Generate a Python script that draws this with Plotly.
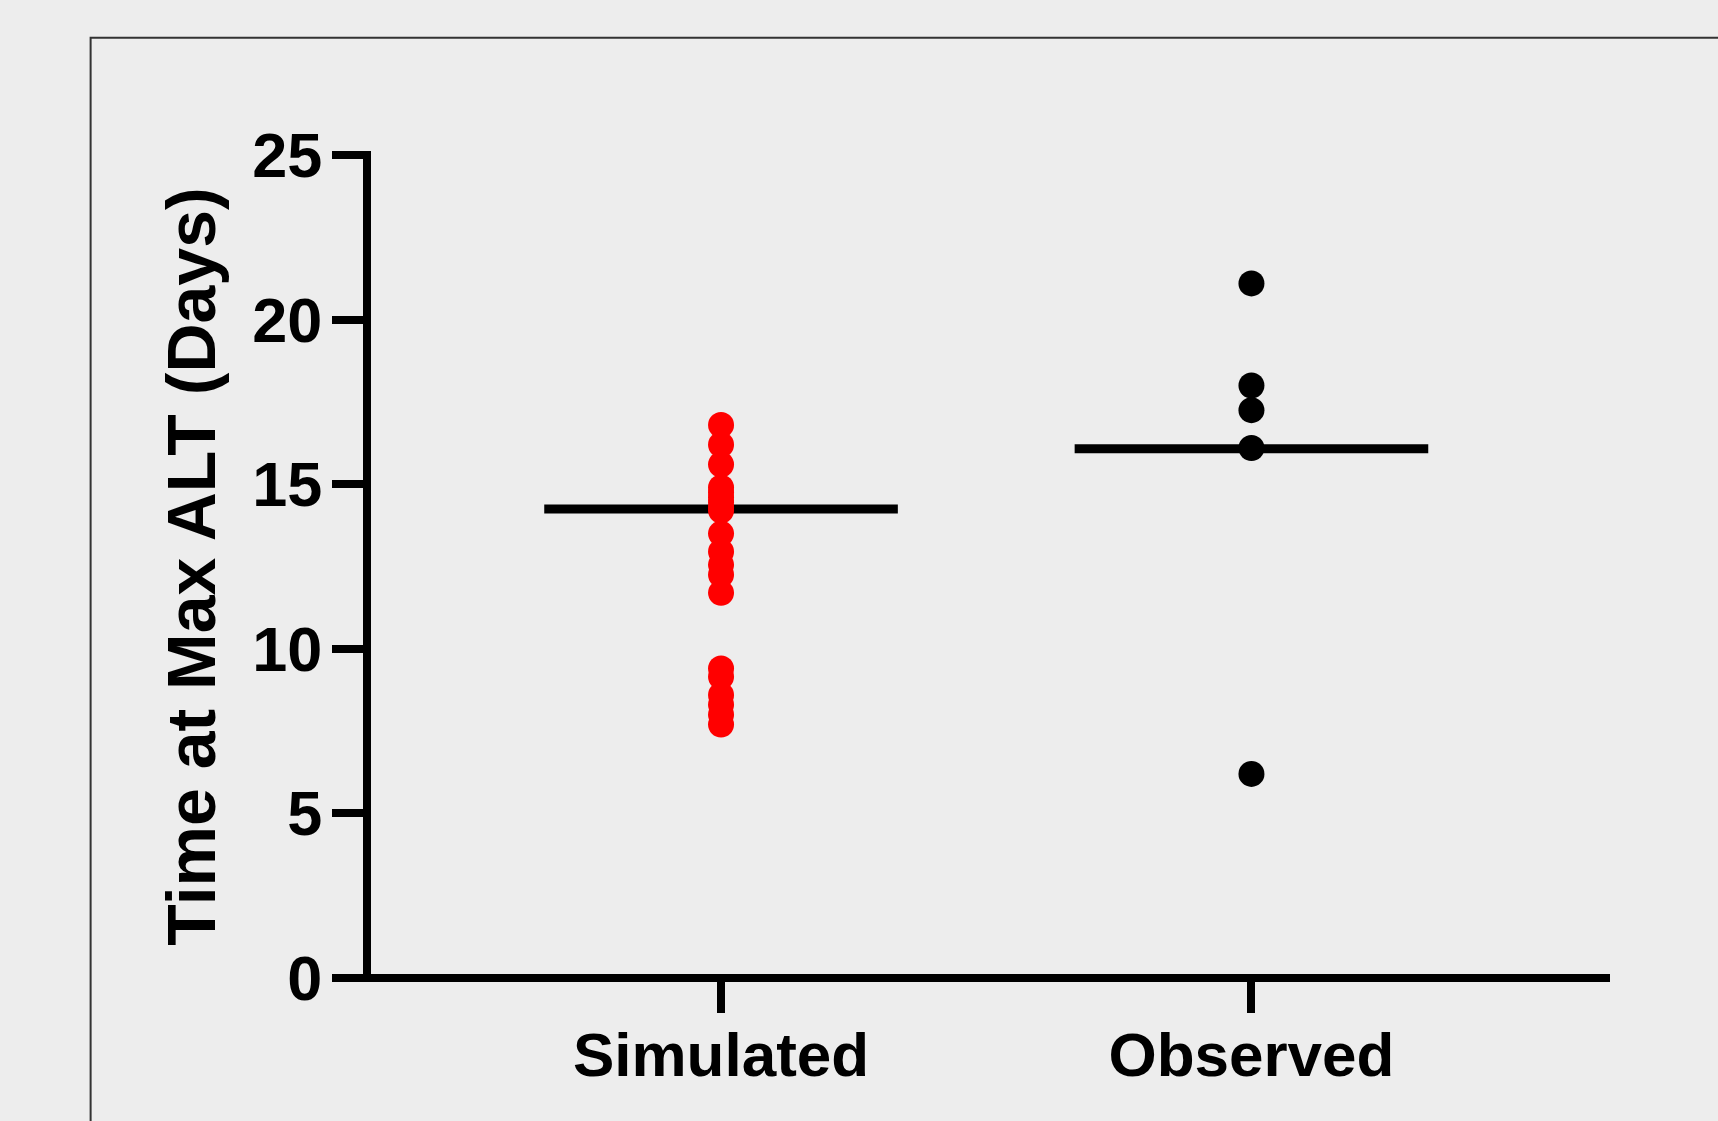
import plotly.graph_objects as go

categories = ["Simulated", "Observed"]
sim_values = [16.8, 16.2, 15.6, 14.9, 14.75, 14.6, 14.45, 14.3, 14.2, 13.5, 12.95,
              12.55, 12.25, 11.7, 9.4, 9.15, 8.6, 8.3, 8.0, 7.7]
obs_values = [21.1, 18.0, 17.25, 16.1, 6.2]
mean_values = [14.25, 16.08]
y_ticks = [0, 5, 10, 15, 20, 25]

BG = "#ededed"
FONT = "Arial, Liberation Sans, sans-serif"

fig = go.Figure()

for i, m in enumerate(mean_values):
    fig.add_trace(go.Scatter(
        x=[i - 1/3, i + 1/3], y=[m, m], mode="lines",
        line=dict(color="black", width=9), showlegend=False, hoverinfo="skip"))

fig.add_trace(go.Scatter(
    x=[0] * len(sim_values), y=sim_values, mode="markers",
    marker=dict(color="#ff0000", size=26, line=dict(width=0)),
    showlegend=False, name=categories[0]))
fig.add_trace(go.Scatter(
    x=[1] * len(obs_values), y=obs_values, mode="markers",
    marker=dict(color="black", size=26, line=dict(width=0)),
    showlegend=False, name=categories[1]))

W, H = 1718, 1121
L, T = 366.5, 154.5
R = W - 1610
B = H - 978.5
pw, ph = W - L - R, H - T - B
AXW = 8

fig.update_layout(
    width=W, height=H,
    margin=dict(l=L, r=R, t=T, b=B, pad=0),
    paper_bgcolor=BG, plot_bgcolor=BG,
    font=dict(family=FONT, color="black"),
    xaxis=dict(
        range=[-0.6675, 1.676], tickvals=[0, 1], ticktext=categories,
        showgrid=False, zeroline=False, showline=False,
        ticks="outside", ticklen=34, tickwidth=AXW, tickcolor="black",
        ticklabelstandoff=-11,
        tickfont=dict(family=FONT, size=62, weight="bold", color="black"),
    ),
    yaxis=dict(
        range=[0, 25], tickvals=y_ticks, ticktext=[str(v) for v in y_ticks],
        showgrid=False, zeroline=False, showline=False,
        ticks="outside", ticklen=34, tickwidth=AXW, tickcolor="black",
        ticklabelstandoff=-3,
        tickfont=dict(family=FONT, size=63, weight="bold", color="black"),
        title=dict(text="Time at Max ALT (Days)", standoff=14,
                   font=dict(family=FONT, size=68, weight="bold", color="black")),
    ),
)

# axis lines centred on the plot-area edges
fig.add_shape(type="line", xref="paper", yref="paper",
              x0=-34 / pw, x1=1.0, y0=0, y1=0,
              line=dict(color="black", width=AXW), layer="above")
fig.add_shape(type="line", xref="paper", yref="paper",
              x0=0, x1=0, y0=-(AXW / 2) / ph, y1=1 + (AXW / 2) / ph,
              line=dict(color="black", width=AXW), layer="above")

# outer frame
fig.add_shape(type="rect", xref="paper", yref="paper",
              x0=(90 - L) / pw, x1=2.0, y0=-1.0, y1=(H - B - 37) / ph,
              line=dict(color="#333333", width=2), fillcolor="rgba(0,0,0,0)", layer="below")

fig.write_html("out.html", config={"displayModeBar": False},
               post_script="document.body.style.margin='0px';document.body.style.background='#ededed';")
